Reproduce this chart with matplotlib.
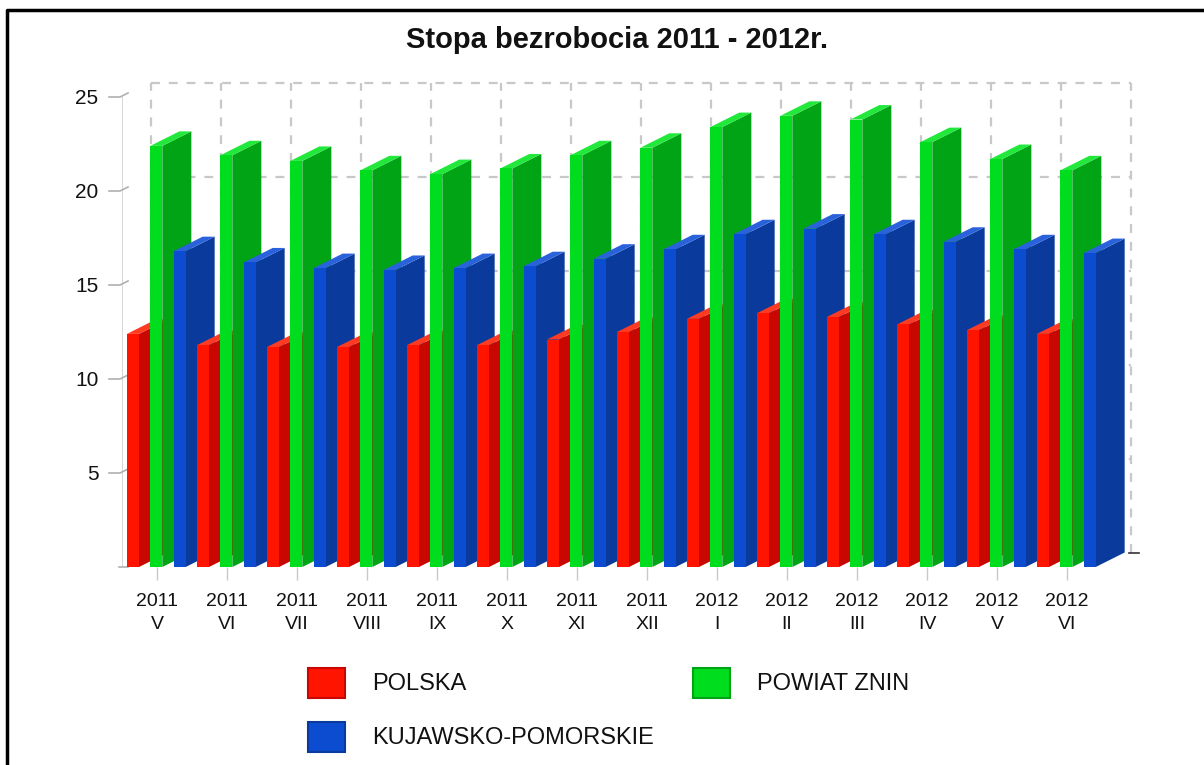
import matplotlib
matplotlib.use("Agg")
import matplotlib.pyplot as plt
from matplotlib.patches import Polygon, Rectangle
from matplotlib.lines import Line2D

# ---------------- data ----------------
title = "Stopa bezrobocia 2011 - 2012r."
years = ["2011"] * 8 + ["2012"] * 6
months = ["V", "VI", "VII", "VIII", "IX", "X", "XI", "XII", "I", "II", "III", "IV", "V", "VI"]
series_names = ["POLSKA", "POWIAT ZNIN", "KUJAWSKO-POMORSKIE"]
polska = [12.4, 11.8, 11.7, 11.7, 11.8, 11.8, 12.1, 12.5, 13.2, 13.5, 13.3, 12.9, 12.6, 12.4]
znin = [22.4, 21.9, 21.6, 21.1, 20.9, 21.2, 21.9, 22.3, 23.4, 24.0, 23.8, 22.6, 21.7, 21.1]
kujpom = [16.8, 16.2, 15.9, 15.8, 15.9, 16.0, 16.4, 16.9, 17.7, 18.0, 17.7, 17.3, 16.9, 16.7]
yticks = [5, 10, 15, 20, 25]

# ---------------- style ----------------
front_cols = ["#ff1400", "#00dc1e", "#0c4cd0"]
side_cols = ["#c80800", "#00a414", "#0a3a9c"]
top_cols = ["#ff3a22", "#22e83c", "#2a62dc"]

W, H = 1204, 765
fig = plt.figure(figsize=(W / 100, H / 100), dpi=100)
px_per_x = 70.0     # pixels per group
px_per_y = 18.8     # pixels per value unit
ax_left_px, ax_bottom_px = 122, 567
xmin, xmax = -0.5, 14.2
ymin, ymax = 0, 29
ax = fig.add_axes([ax_left_px / W, (H - ax_bottom_px) / H,
                   (xmax - xmin) * px_per_x / W, (ymax - ymin) * px_per_y / H])
ax.set_xlim(xmin, xmax)
ax.set_ylim(ymin, ymax)
for s in ax.spines.values():
    s.set_visible(False)

# 3D depth offsets (data units)
dx = 29 / px_per_x
dy = 14.5 / px_per_y
bw = 12 / px_per_x          # front face width
slot = 23.33 / px_per_x     # spacing between bars in a group
first = 5 / px_per_x        # offset of first bar from group start

ngroups = len(months)
grid_col = "#c8c8c8"
# back wall grid
for v in yticks:
    ax.plot([xmin + dx, xmin + ngroups + dx], [v + dy, v + dy], color=grid_col,
            lw=1.6, ls=(0, (4, 4)), zorder=1)
for j in range(ngroups + 1):
    ax.plot([xmin + j + dx] * 2, [dy, 25 + dy], color=grid_col, lw=1.6,
            ls=(0, (4, 4)), zorder=1)

# y axis line and slanted ticks
ax.plot([xmin, xmin], [0, 25], color="#cfcfcf", lw=1.2, zorder=2)
for v in yticks:
    ax.plot([xmin - 13 / px_per_x, xmin - 2 / px_per_x, xmin + 6 / px_per_x],
            [v, v, v + 4 / px_per_y], color="#b0b0b0", lw=1.2, zorder=2,
            clip_on=False)
ax.plot([xmin - 3 / px_per_x, xmin + 6 / px_per_x], [0, 0], color="#b0b0b0", lw=1.2,
        clip_on=False)

# bars
data = [polska, znin, kujpom]
z = 10
for i in range(ngroups):
    for k in range(3):
        h = data[k][i]
        x0 = i - 0.5 + first + k * slot
        side = Polygon([(x0 + bw, 0), (x0 + bw + dx, dy), (x0 + bw + dx, h + dy), (x0 + bw, h)],
                       closed=True, fc=side_cols[k], ec="none", zorder=z)
        top = Polygon([(x0, h), (x0 + bw, h), (x0 + bw + dx, h + dy), (x0 + dx, h + dy)],
                      closed=True, fc=top_cols[k], ec="none", zorder=z + 1)
        front = Rectangle((x0, 0), bw, h, fc=front_cols[k], ec="none", zorder=z + 2)
        for p in (side, top, front):
            ax.add_patch(p)
        z += 3

# small floor corner mark at right end
ax.plot([xmin + ngroups + dx - 2 / px_per_x, xmin + ngroups + dx + 8 / px_per_x],
        [dy, dy], color="#333333", lw=1.2, zorder=z + 1, clip_on=False)

# ticks and labels
ax.set_yticks(yticks, [str(v) for v in yticks])
ax.set_xticks(range(ngroups), [f"{y}\n{m}" for y, m in zip(years, months)])
ax.tick_params(axis="y", length=0, pad=17, labelsize=15, labelcolor="#111111")
ax.tick_params(axis="x", length=9, width=1, color="#c8c8c8", pad=10,
               labelsize=14, labelcolor="#111111")
for t in ax.get_xticklabels():
    t.set_linespacing(1.4)
for t in ax.get_xticklabels() + ax.get_yticklabels():
    t.set_fontfamily("Liberation Sans")

# title
fig.text(617 / W, 1 - 40 / H, title, ha="center", va="center", fontsize=21,
         fontweight="bold", family="Liberation Sans", color="#111111")

# legend
leg_pos = [(308, 668), (693, 668), (308, 722)]
for k, (lx, ly) in enumerate(leg_pos):
    fig.add_artist(Rectangle((lx / W, 1 - (ly + 30) / H), 37 / W, 30 / H,
                             transform=fig.transFigure, fc=front_cols[k],
                             ec=side_cols[k], lw=1.5))
    fig.text((lx + 64) / W, 1 - (ly + 16) / H, series_names[k], ha="left", va="center",
             fontsize=17, family="Liberation Sans", color="#111111")

# frame (left and top borders)
fig.add_artist(Line2D([7 / W, 7 / W, 1.0], [0.0, 1 - 10 / H, 1 - 10 / H],
                      transform=fig.transFigure, color="black", lw=2.5))

fig.savefig("out.png", dpi=100)
